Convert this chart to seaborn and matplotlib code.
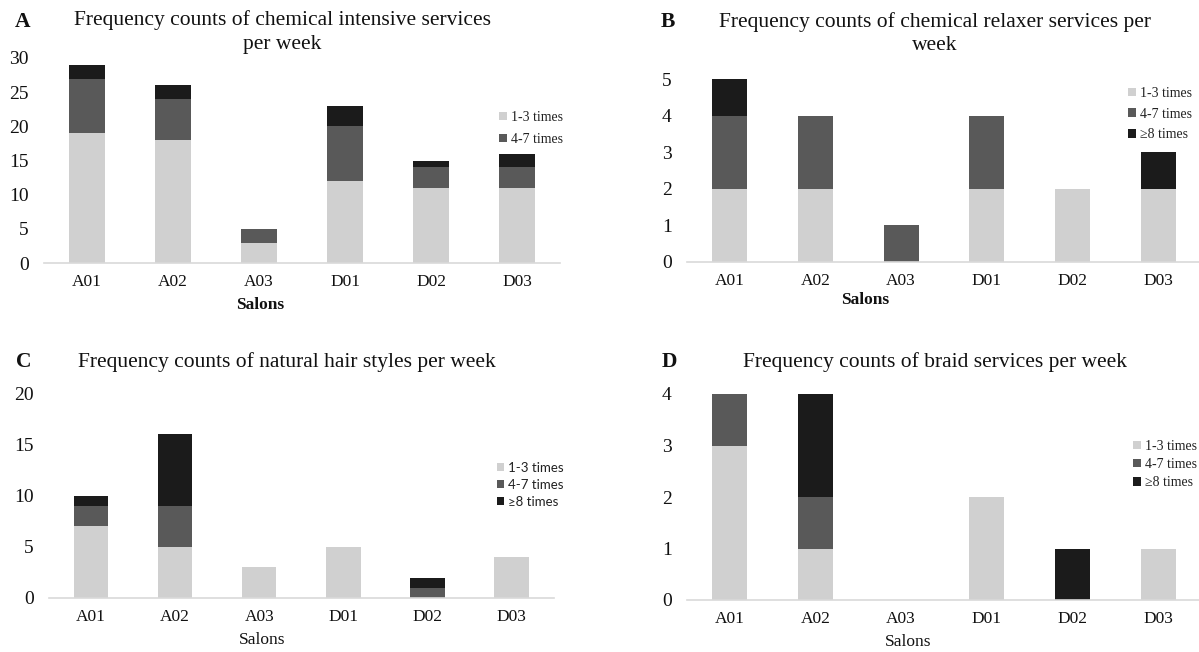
import matplotlib
matplotlib.use("Agg")
import matplotlib.pyplot as plt
import seaborn as sns
from matplotlib.patches import Patch

# ---------------- data ----------------
salons = ["A01", "A02", "A03", "D01", "D02", "D03"]
series_labels = ["1-3 times", "4-7 times", "\u22658 times"]

a_low = [19, 18, 3, 12, 11, 11]
a_mid = [8, 6, 2, 8, 3, 3]
a_high = [2, 2, 0, 3, 1, 2]

b_low = [2, 2, 0, 2, 2, 2]
b_mid = [2, 2, 1, 2, 0, 0]
b_high = [1, 0, 0, 0, 0, 1]

c_low = [7, 5, 3, 5, 0, 4]
c_mid = [2, 4, 0, 0, 1, 0]
c_high = [1, 7, 0, 0, 1, 0]

d_low = [3, 1, 0, 2, 0, 1]
d_mid = [1, 1, 0, 0, 0, 0]
d_high = [0, 2, 0, 0, 1, 0]

a_yticks = [0, 5, 10, 15, 20, 25, 30]
b_yticks = [0, 1, 2, 3, 4, 5]
c_yticks = [0, 5, 10, 15, 20]
d_yticks = [0, 1, 2, 3, 4]

colors = ["#d0d0d0", "#595959", "#1b1b1b"]

# ---------------- style ----------------
sns.set_style("white")
SERIF = ["Liberation Serif", "DejaVu Serif"]
SANS = ["Lato", "DejaVu Sans"]
plt.rcParams["font.family"] = SERIF

W, H = 1199, 652
fig = plt.figure(figsize=(W / 100, H / 100), dpi=100)
fig.patch.set_facecolor("white")


def fx(x):
    return x / W


def fy(y):
    return 1 - y / H


panels = [
    dict(letter="A", low=a_low, mid=a_mid, high=a_high, yticks=a_yticks,
         box=(44, 560, 58, 263),
         title=[("Frequency counts of chemical intensive services", 282, 20),
                ("per week", 282, 45)],
         letter_pos=(23, 22), n_leg=2, leg_pos=(499, 128.5), leg_space=0.62,
         leg_font=SERIF, leg_size=10, salons_pos=(260, 305), salons_bold=True),
    dict(letter="B", low=b_low, mid=b_mid, high=b_high, yticks=b_yticks,
         box=(687, 1201, 79, 262),
         title=[("Frequency counts of chemical relaxer services per", 935, 22),
                ("week", 935, 45)],
         letter_pos=(668, 22), n_leg=3, leg_pos=(1128, 114), leg_space=0.56,
         leg_font=SERIF, leg_size=10, salons_pos=(865, 300), salons_bold=True),
    dict(letter="C", low=c_low, mid=c_mid, high=c_high, yticks=c_yticks,
         box=(49, 553.5, 393, 598),
         title=[("Frequency counts of natural hair styles per week", 287, 362)],
         letter_pos=(24, 362), n_leg=3, leg_pos=(497, 485), leg_space=0.38,
         leg_font=SANS, leg_size=9.5, salons_pos=(262, 640), salons_bold=False),
    dict(letter="D", low=d_low, mid=d_mid, high=d_high, yticks=d_yticks,
         box=(687, 1201, 394, 600),
         title=[("Frequency counts of braid services per week", 935, 362)],
         letter_pos=(669, 362), n_leg=3, leg_pos=(1133, 464.5), leg_space=0.38,
         leg_font=SERIF, leg_size=10, salons_pos=(908, 642), salons_bold=False),
]

for p in panels:
    l, r, t, b = p["box"]
    ax = fig.add_axes([fx(l), fy(b), (r - l) / W, (b - t) / H])
    ax.set_facecolor("white")

    low, mid, high = p["low"], p["mid"], p["high"]
    cum2 = [x + y for x, y in zip(low, mid)]
    cum3 = [x + y for x, y in zip(cum2, high)]
    for vals, c in zip([cum3, cum2, low], colors[::-1]):
        sns.barplot(x=salons, y=vals, order=salons, color=c, saturation=1,
                    width=0.41, linewidth=0, errorbar=None, ax=ax)

    ax.set_xlim(-0.5, 5.5)
    ax.set_ylim(0, p["yticks"][-1])
    ax.set_yticks(p["yticks"])
    ax.set_xlabel("")
    ax.set_ylabel("")
    for s in ["top", "right", "left"]:
        ax.spines[s].set_visible(False)
    ax.spines["bottom"].set_color("#d9d9d9")
    ax.spines["bottom"].set_linewidth(1.2)
    ax.tick_params(axis="y", length=0, pad=11, labelsize=14, colors="#111111")
    ax.tick_params(axis="x", length=0, pad=8, labelsize=12.5, colors="#111111")
    ax.grid(False)

    for txt, x, y in p["title"]:
        fig.text(fx(x), fy(y), txt, ha="center", va="center", fontsize=15.5,
                 color="#111111")
    lx, ly = p["letter_pos"]
    fig.text(fx(lx), fy(ly), p["letter"], ha="center", va="center",
             fontsize=15.5, fontweight="bold", color="#111111")

    sx, sy = p["salons_pos"]
    fig.text(fx(sx), fy(sy), "Salons", ha="center", va="center", fontsize=12.5,
             fontweight="bold" if p["salons_bold"] else "normal", color="#111111")

    handles = [Patch(facecolor=colors[i], edgecolor="none") for i in range(p["n_leg"])]
    leg = ax.legend(handles, series_labels[:p["n_leg"]], loc="center left",
                    bbox_to_anchor=(fx(p["leg_pos"][0]), fy(p["leg_pos"][1])),
                    bbox_transform=fig.transFigure, frameon=False,
                    borderpad=0, borderaxespad=0, handlelength=0.55,
                    handleheight=0.55, handletextpad=0.3,
                    labelspacing=p["leg_space"],
                    prop=dict(family=p["leg_font"], size=p["leg_size"]))
    for t_ in leg.get_texts():
        t_.set_color("#222222")

fig.savefig("out.png", dpi=100, facecolor="white")
